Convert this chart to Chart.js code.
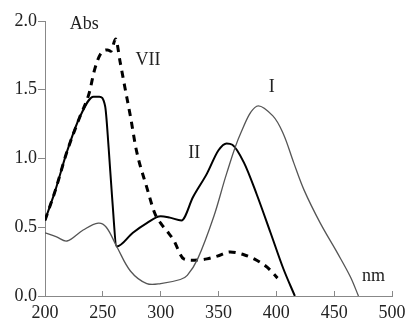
<!DOCTYPE html>
<html>
<head>
<meta charset="utf-8">
<script src="https://cdn.jsdelivr.net/npm/chart.js@4/dist/chart.umd.min.js"></script>
<style>
  html, body { margin: 0; padding: 0; background: #fff; }
  #wrap { width: 406px; height: 320px; }
</style>
</head>
<body>
<div id="wrap"><canvas id="spectra" width="406" height="320"></canvas></div>
<script>
// wavelengths (nm) and absorbance
const wlI = [200, 210, 219, 233, 246, 253, 262, 274, 288, 300, 317, 323, 332, 346, 357, 369, 383, 397, 406, 415, 424, 438, 453, 464, 471];
const absI = [0.46, 0.43, 0.40, 0.48, 0.53, 0.50, 0.36, 0.18, 0.09, 0.09, 0.12, 0.15, 0.27, 0.58, 0.89, 1.18, 1.38, 1.31, 1.18, 0.97, 0.77, 0.53, 0.31, 0.14, 0.0];

const wlII = [200, 209, 219, 230, 242, 247, 252, 255, 258, 262, 276, 288, 300, 308, 318, 328, 340, 350, 357, 362, 372, 383, 395, 406, 416];
const absII = [0.55, 0.77, 1.05, 1.30, 1.45, 1.45, 1.38, 1.08, 0.72, 0.36, 0.46, 0.53, 0.58, 0.57, 0.55, 0.72, 0.89, 1.06, 1.11, 1.10, 0.97, 0.74, 0.46, 0.20, 0.0];

const wlVII = [200, 209, 219, 230, 238, 243, 248, 254, 257, 261, 265, 269, 274, 279, 288, 295, 300, 307, 311, 320, 329, 340, 349, 360, 372, 383, 392, 401];
const absVII = [0.55, 0.77, 1.05, 1.30, 1.47, 1.65, 1.76, 1.79, 1.78, 1.87, 1.70, 1.52, 1.30, 1.06, 0.79, 0.60, 0.53, 0.455, 0.41, 0.27, 0.26, 0.27, 0.29, 0.32, 0.30, 0.26, 0.21, 0.13];

const xTicks = [200, 250, 300, 350, 400, 450, 500];
const yTicks = [0.0, 0.5, 1.0, 1.5, 2.0];

// text labels placed in data units
const notes = [
  { text: 'Abs', x: 234, y: 1.975 },
  { text: 'VII', x: 289, y: 1.715 },
  { text: 'II', x: 329, y: 1.04 },
  { text: 'I', x: 396, y: 1.52 },
  { text: 'nm', x: 484, y: 0.14 }
];

function pairs(xs, ys) {
  return xs.map((x, i) => ({ x: x, y: ys[i] }));
}

const serif = '"Liberation Serif", "DejaVu Serif", serif';

const notesPlugin = {
  id: 'notes',
  afterDatasetsDraw(chart) {
    const ctx = chart.ctx;
    const sx = chart.scales.x, sy = chart.scales.y;
    ctx.save();
    ctx.font = '18px ' + serif;
    ctx.fillStyle = '#222';
    ctx.textAlign = 'center';
    ctx.textBaseline = 'middle';
    notes.forEach(n => {
      ctx.fillText(n.text, sx.getPixelForValue(n.x), sy.getPixelForValue(n.y));
    });
    ctx.restore();
  }
};

new Chart(document.getElementById('spectra'), {
  type: 'line',
  data: {
    datasets: [
      {
        label: 'I',
        data: pairs(wlI, absI),
        borderColor: '#555',
        borderWidth: 1.3,
        pointRadius: 0,
        tension: 0.35
      },
      {
        label: 'II',
        data: pairs(wlII, absII),
        borderColor: '#000',
        borderWidth: 2,
        pointRadius: 0,
        cubicInterpolationMode: 'monotone'
      },
      {
        label: 'VII',
        data: pairs(wlVII, absVII),
        borderColor: '#000',
        borderWidth: 3,
        borderDash: [7, 6],
        pointRadius: 0,
        cubicInterpolationMode: 'monotone'
      }
    ]
  },
  options: {
    responsive: false,
    animation: false,
    devicePixelRatio: 1,
    layout: { padding: { top: 21, right: 14, left: 0, bottom: 0 } },
    plugins: { legend: { display: false }, tooltip: { enabled: false } },
    scales: {
      x: {
        type: 'linear',
        min: 200,
        max: 500,
        afterBuildTicks: s => { s.ticks = xTicks.map(v => ({ value: v })); },
        afterFit: s => { s.height = 24; s.paddingLeft = 0; s.paddingRight = 0; },
        grid: { drawOnChartArea: false, drawTicks: true, tickLength: -5, color: '#888' },
        border: { color: '#888', width: 1 },
        ticks: {
          padding: 11,
          color: '#222',
          font: { family: serif, size: 18 },
          maxRotation: 0
        }
      },
      y: {
        min: 0,
        max: 2,
        afterBuildTicks: s => { s.ticks = yTicks.map(v => ({ value: v })); },
        afterFit: s => { s.width = 45; s.paddingTop = 0; s.paddingBottom = 0; },
        grid: { drawOnChartArea: false, drawTicks: true, tickLength: 7, color: '#888' },
        border: { color: '#888', width: 1 },
        ticks: {
          padding: 1,
          color: '#222',
          font: { family: serif, size: 18 },
          callback: v => v.toFixed(1)
        }
      }
    }
  },
  plugins: [notesPlugin]
});
</script>
</body>
</html>
